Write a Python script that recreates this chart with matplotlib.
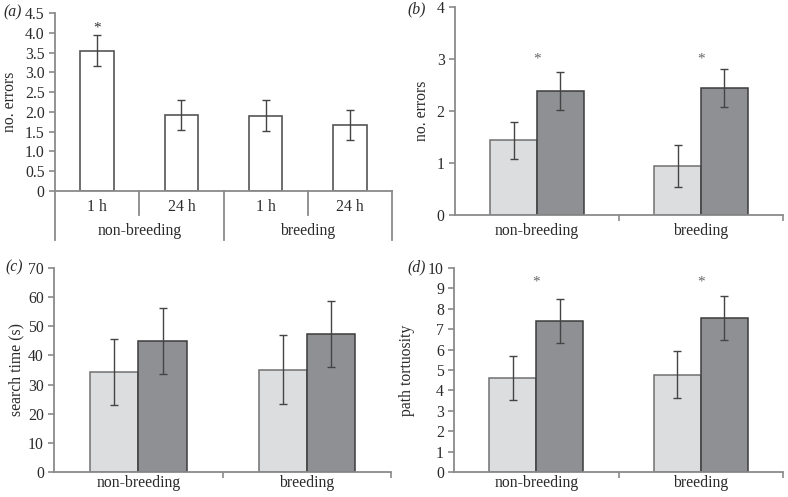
import matplotlib
matplotlib.use("Agg")
import matplotlib.pyplot as plt
import matplotlib.transforms as mtransforms
import numpy as np

plt.rcParams['font.family'] = ['Liberation Serif', 'DejaVu Serif']
plt.rcParams['font.size'] = 11.3

# ---------------- data ----------------
# panel (a)
a_time = ['1 h', '24 h', '1 h', '24 h']
a_season = ['non-breeding', 'breeding']
a_vals = [3.55, 1.92, 1.90, 1.67]
a_err = [0.39, 0.39, 0.39, 0.39]
a_star = [True, False, False, False]

seasons = ['non-breeding', 'breeding']
# panel (b) no. errors
b_light = [1.44, 0.94]
b_light_err = [0.36, 0.40]
b_dark = [2.39, 2.45]
b_dark_err = [0.37, 0.37]
b_star = [True, True]
# panel (c) search time
c_light = [34.3, 35.1]
c_light_err = [11.3, 11.8]
c_dark = [44.9, 47.3]
c_dark_err = [11.3, 11.2]
c_star = [False, False]
# panel (d) path tortuosity
d_light = [4.61, 4.77]
d_light_err = [1.07, 1.14]
d_dark = [7.41, 7.56]
d_dark_err = [1.08, 1.07]
d_star = [True, True]

LIGHT = '#dcdddf'
DARK = '#8f9094'
EDGE_L = '#707070'
EDGE_D = '#3c3c3c'
SPINE = '#8a8a8a'
ERR = '#444444'
TXT = '#2a2a2a'

fig = plt.figure(figsize=(7.88, 4.97), dpi=100)
W, H = 788, 497

def add_ax(l, r, t, b):
    return fig.add_axes([l / W, (H - b) / H, (r - l) / W, (b - t) / H])

def style(ax):
    for s in ['top', 'right']:
        ax.spines[s].set_visible(False)
    for s in ['left', 'bottom']:
        ax.spines[s].set_color(SPINE)
        ax.spines[s].set_linewidth(1.3)
    ax.tick_params(axis='y', direction='out', length=4, width=1.2, color=SPINE, pad=3.5, labelcolor=TXT)
    ax.tick_params(axis='x', labelcolor=TXT)

# ---------------- panel (a) ----------------
axa = add_ax(55, 392, 13, 191)
style(axa)
xa = np.arange(len(a_vals))
axa.bar(xa, a_vals, width=0.40, color='white', edgecolor='#555555', linewidth=1.2, zorder=2)
axa.errorbar(xa, a_vals, yerr=a_err, fmt='none', ecolor=ERR, elinewidth=1.0, capsize=3, capthick=1.0, zorder=3)
for x, v, e, s in zip(xa, a_vals, a_err, a_star):
    if s:
        axa.text(x, 4.12, '*', ha='center', va='center', fontsize=11, color='#333333')
axa.set_xlim(-0.5, 3.5)
axa.set_ylim(0, 4.5)
axa.set_yticks(np.arange(0, 4.51, 0.5))
axa.set_yticklabels(['0'] + ['%.1f' % v for v in np.arange(0.5, 4.51, 0.5)])
axa.set_xticks([])
axa.set_ylabel('no. errors', color=TXT)
axa.yaxis.set_label_coords(-0.11, 0.5)
trans = mtransforms.blended_transform_factory(axa.transData, axa.transAxes)
for xb, yb in [(-0.5, -0.275), (0.5, -0.135), (1.5, -0.275), (2.5, -0.135), (3.5, -0.275)]:
    axa.plot([xb, xb], [0, yb], transform=trans, color=SPINE, lw=1.3, clip_on=False)
for x, lab in zip(xa, a_time):
    axa.text(x, -0.088, lab, transform=trans, ha='center', va='center', color=TXT)
for i, lab in enumerate(a_season):
    axa.text(0.5 + 2 * i, -0.226, lab, transform=trans, ha='center', va='center', color=TXT)
fig.text(3 / W, 1 - 12 / H, '(a)', style='italic', ha='left', va='center', color=TXT)

# ---------------- grouped panels ----------------
def grouped(ax, light, le, dark, de, stars, ymax, yticks, ylabel, star_y, labx, xpad):
    style(ax)
    x = np.arange(len(seasons))
    w = 0.286
    ax.bar(x - w / 2, light, width=w, color=LIGHT, edgecolor=EDGE_L, linewidth=1.1, zorder=2)
    ax.bar(x + w / 2, dark, width=w, color=DARK, edgecolor=EDGE_D, linewidth=1.1, zorder=2)
    ax.errorbar(x - w / 2, light, yerr=le, fmt='none', ecolor=ERR, elinewidth=1.0, capsize=3, capthick=1.0, zorder=3)
    ax.errorbar(x + w / 2, dark, yerr=de, fmt='none', ecolor=ERR, elinewidth=1.0, capsize=3, capthick=1.0, zorder=3)
    for xi, s in zip(x, stars):
        if s:
            ax.text(xi, star_y, '*', ha='center', va='center', fontsize=11, color='#666666')
    ax.set_xlim(-0.5, 1.5)
    ax.set_ylim(0, ymax)
    ax.set_yticks(yticks)
    ax.set_xticks(x)
    ax.set_xticklabels(seasons)
    ax.tick_params(axis='x', which='major', length=0, pad=xpad)
    ax.set_xticks([0.5, 1.5], minor=True)
    ax.tick_params(axis='x', which='minor', length=4, width=1.2, color=SPINE, direction='out')
    ax.set_ylabel(ylabel, color=TXT)
    ax.yaxis.set_label_coords(labx, 0.5)

axb = add_ax(455, 783, 7.3, 215)
grouped(axb, b_light, b_light_err, b_dark, b_dark_err, b_star, 4, [0, 1, 2, 3, 4], 'no. errors', 3.0, -0.075, 6)
fig.text(407 / W, 1 - 9 / H, '(b)', style='italic', ha='left', va='center', color=TXT)

axc = add_ax(54.3, 391, 267.7, 472.3)
grouped(axc, c_light, c_light_err, c_dark, c_dark_err, c_star, 70, list(range(0, 71, 10)), 'search time (s)', 0, -0.088, 2)
fig.text(5 / W, 1 - 267 / H, '(c)', style='italic', ha='left', va='center', color=TXT)

axd = add_ax(454.3, 783, 267.7, 472.3)
grouped(axd, d_light, d_light_err, d_dark, d_dark_err, d_star, 10, list(range(0, 11)), 'path tortuosity', 9.29, -0.12, 2)
fig.text(407 / W, 1 - 267 / H, '(d)', style='italic', ha='left', va='center', color=TXT)

fig.savefig('out.png', dpi=100)
